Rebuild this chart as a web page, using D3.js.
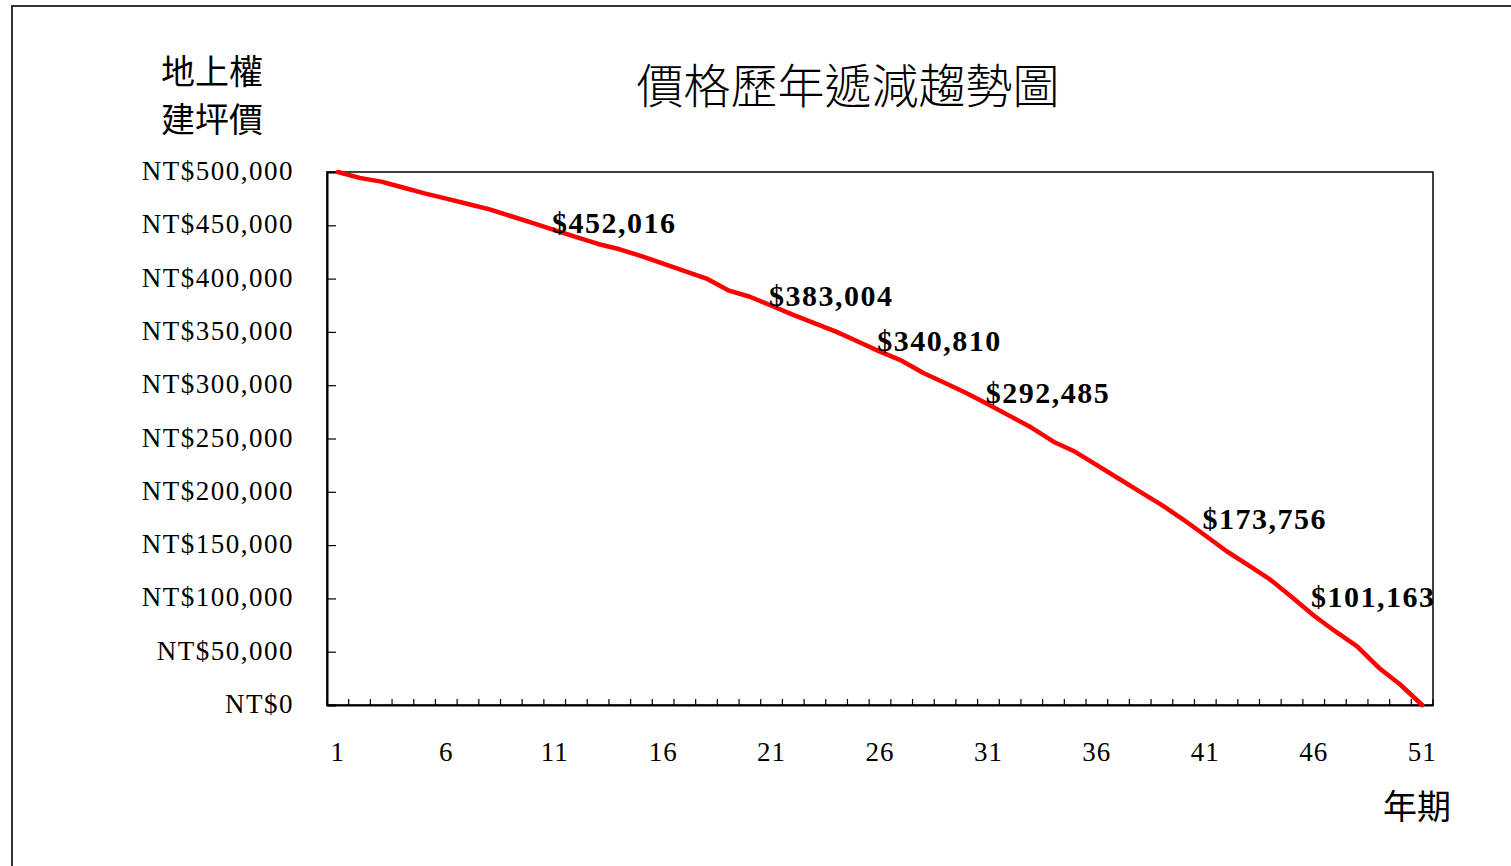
<!DOCTYPE html>
<html>
<head>
<meta charset="utf-8">
<script src="https://cdn.jsdelivr.net/npm/d3@7"></script>
<style>
  html, body { margin: 0; padding: 0; background: #fff; }
  svg { display: block; }
</style>
</head>
<body>
<svg id="chart" width="1511" height="866"></svg>
<script>
// ---- data ----
const years = d3.range(1, 52);
const values = [
  500000, 494500, 491000, 485500, 480000, 475000, 470000, 465000, 458500, 452016,
  445500, 439000, 432500, 427500, 421000, 414000, 407000, 400000, 389000, 383004,
  374500, 366000, 358000, 350000, 340810, 331500, 323000, 311500, 302000, 292485,
  282000, 271000, 260000, 247000, 237500, 225000, 212500, 200000, 187500, 173756,
  159000, 144000, 131000, 117500, 101163, 84000, 69000, 55000, 35000, 19000, 0
];
const labeledYears = [10, 20, 25, 30, 40, 45];
const yTicks = [0, 50000, 100000, 150000, 200000, 250000, 300000, 350000, 400000, 450000, 500000];
const xTickLabels = [1, 6, 11, 16, 21, 26, 31, 36, 41, 46, 51];
const title = "價格歷年遞減趨勢圖";
const yTitleLines = ["地上權", "建坪價"];
const xTitle = "年期";

const data = years.map((y, i) => ({ year: y, value: values[i] }));

const svg = d3.select("#chart");
const serif = "'Liberation Serif', 'Times New Roman', serif";
const cjk = "'Noto Sans CJK TC', 'Noto Sans CJK SC', sans-serif";

// outer frame
svg.append("path")
  .attr("d", "M12,866 L12,6 L1511,6")
  .attr("fill", "none").attr("stroke", "#333").attr("stroke-width", 2);

const L = 327, R = 1433, T = 172, B = 705;
const x = d3.scaleBand().domain(years).range([L, R]).padding(0);
const y = d3.scaleLinear().domain([0, 500000]).range([B, T]);
const cx = d => x(d) + x.bandwidth() / 2;

// plot box
svg.append("rect").attr("x", L).attr("y", T).attr("width", R - L).attr("height", B - T)
  .attr("fill", "none").attr("stroke", "#000").attr("stroke-width", 1.5);

// y axis
const yAxis = d3.axisLeft(y).tickValues(yTicks).tickSize(-9).tickPadding(33)
  .tickFormat(d => "NT$" + d3.format(",")(d));
const gy = svg.append("g").attr("transform", `translate(${L},0)`).call(yAxis);
gy.select(".domain").attr("stroke", "#000").attr("stroke-width", 2);
gy.selectAll(".tick line").attr("stroke", "#000").attr("stroke-width", 1.2);
gy.selectAll(".tick text").attr("font-family", serif).attr("font-size", 27)
  .attr("letter-spacing", 1.5).attr("fill", "#000").attr("dy", "0.28em");

// x axis labels
const xAxis = d3.axisBottom(x).tickValues(xTickLabels).tickSize(0).tickPadding(37);
const gx = svg.append("g").attr("transform", `translate(0,${B})`).call(xAxis);
gx.select(".domain").attr("stroke", "#000").attr("stroke-width", 2);
gx.selectAll(".tick text").attr("font-family", serif).attr("font-size", 27)
  .attr("letter-spacing", 1).attr("fill", "#000");

// x minor ticks at category boundaries
const bounds = years.map(d => x(d)).concat([R]);
svg.append("g").selectAll("line").data(bounds).join("line")
  .attr("x1", d => d).attr("x2", d => d)
  .attr("y1", B).attr("y2", B - 6)
  .attr("stroke", "#000").attr("stroke-width", 1.2);

// line
const line = d3.line().x(d => cx(d.year)).y(d => y(d.value));
svg.append("path").datum(data).attr("d", line)
  .attr("fill", "none").attr("stroke", "#ff0000").attr("stroke-width", 4.5)
  .attr("stroke-linejoin", "round").attr("stroke-linecap", "round");

// data labels
svg.append("g").selectAll("text").data(data.filter(d => labeledYears.includes(d.year))).join("text")
  .attr("x", d => cx(d.year) + 19)
  .attr("y", d => y(d.value) - 1)
  .attr("dy", "0.35em")
  .attr("font-family", serif).attr("font-weight", "bold").attr("font-size", 30)
  .attr("letter-spacing", 1.5).attr("fill", "#000")
  .text(d => "$" + d3.format(",")(d.value));

// title
svg.append("text").attr("x", 848).attr("y", 87).attr("dy", "0.35em")
  .attr("text-anchor", "middle").attr("font-family", cjk).attr("font-size", 47)
  .attr("font-weight", 300).attr("fill", "#000").text(title);

// y title
svg.append("g").selectAll("text").data(yTitleLines).join("text")
  .attr("x", 212).attr("y", (d, i) => 72 + i * 48).attr("dy", "0.35em")
  .attr("text-anchor", "middle").attr("font-family", cjk).attr("font-size", 34)
  .attr("fill", "#000").text(d => d);

// x title
svg.append("text").attr("x", 1417).attr("y", 807).attr("dy", "0.35em")
  .attr("text-anchor", "middle").attr("font-family", cjk).attr("font-size", 34)
  .attr("fill", "#000").text(xTitle);
</script>
</body>
</html>
